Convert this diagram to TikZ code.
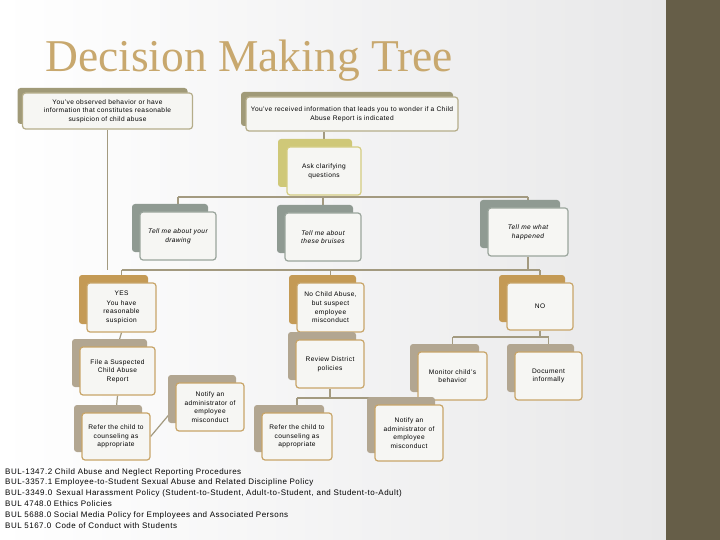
\documentclass[tikz,border=0pt]{standalone}
\usepackage{fontspec}
\setmainfont[LetterSpace=6]{Liberation Sans}
\newfontfamily\titlefont{Liberation Serif}
\usetikzlibrary{shadows}
\hyphenpenalty=10000 \exhyphenpenalty=10000
\definecolor{strip}{HTML}{665E48}
\definecolor{ttl}{HTML}{C8A86E}
\definecolor{ln}{HTML}{A39A80}
\definecolor{fgfill}{HTML}{F6F6F3}
\definecolor{topd}{HTML}{B5AD8A}
\definecolor{tops}{HTML}{A09A78}
\definecolor{askd}{HTML}{D4CC80}
\definecolor{asks}{HTML}{CFC878}
\definecolor{telld}{HTML}{9AA59C}
\definecolor{tells}{HTML}{8F9A92}
\definecolor{goldd}{HTML}{C8A569}
\definecolor{golds}{HTML}{C49A55}
\definecolor{tans}{HTML}{B2A691}
\definecolor{bgr}{HTML}{E8E8E9}
\pgfdeclarelayer{bg}\pgfdeclarelayer{lines}\pgfsetlayers{bg,lines,main}
\tikzset{
 bx/.style={line width=1.2pt, rounded corners=3pt, fill=fgfill, align=center,
   font=\fontsize{6.6}{8.6}\selectfont, inner sep=2pt},
 topb/.style={bx, draw=topd,
   copy shadow={shadow xshift=-5pt, shadow yshift=5pt, fill=tops, draw=none}},
 askb/.style={bx, draw=askd,
   copy shadow={shadow xshift=-9pt, shadow yshift=8pt, fill=asks, draw=none}},
 tellb/.style={bx, draw=telld, font=\fontsize{6.6}{8.6}\selectfont\itshape,
   copy shadow={shadow xshift=-8pt, shadow yshift=8pt, fill=tells, draw=none}},
 goldb/.style={bx, draw=goldd,
   copy shadow={shadow xshift=-8pt, shadow yshift=8pt, fill=golds, draw=none}},
 tanb/.style={bx, draw=goldd,
   copy shadow={shadow xshift=-8pt, shadow yshift=8pt, fill=tans, draw=none}},
 conn/.style={draw=ln, line width=1.2pt},
}
\begin{document}
\begin{tikzpicture}[x=1pt,y=-1pt]
\begin{pgfonlayer}{bg}
\shade[left color=white, right color=bgr] (0,0) rectangle (666,540);
\fill[strip] (666,0) rectangle (720,540);
\end{pgfonlayer}
\useasboundingbox (0,0) rectangle (720,540);
\node[anchor=base west, font=\titlefont\fontsize{45.5}{46}\selectfont, text=ttl, inner sep=0] (title) at (45,72) {Decision Making Tree};

\node[topb, minimum width=170pt, minimum height=36pt, text width=166pt] (tl) at (107.5,111) {You've observed behavior or have\\ information that constitutes reasonable\\ suspicion of child abuse};
\node[topb, minimum width=212pt, minimum height=34pt, text width=208pt] (tr) at (352,114) {You've received information that leads you to wonder if a Child\\ Abuse Report is indicated};
\node[askb, minimum width=74pt, minimum height=48pt, text width=70pt] (ask) at (324,171) {Ask clarifying\\ questions};
\node[tellb, minimum width=76pt, minimum height=48pt, text width=72pt] (td) at (178,236) {Tell me about your\\ drawing};
\node[tellb, minimum width=76pt, minimum height=48pt, text width=72pt] (tb) at (323,237) {Tell me about\\ these bruises};
\node[tellb, minimum width=80pt, minimum height=48pt, text width=76pt] (th) at (528,232) {Tell me what\\ happened};

\node[goldb, minimum width=69pt, minimum height=49pt, text width=65pt] (yes) at (121.5,307.5) {YES\\[1pt] You have\\ reasonable\\ suspicion};
\node[goldb, minimum width=67pt, minimum height=49pt, text width=63pt] (nc) at (330.5,307.5) {No Child Abuse,\\ but suspect\\ employee\\ misconduct};
\node[goldb, minimum width=66pt, minimum height=47pt, text width=62pt] (no) at (540,306.5) {NO};

\node[tanb, minimum width=75pt, minimum height=48pt, text width=71pt] (file) at (117.5,371) {File a Suspected\\ Child Abuse\\ Report};
\node[tanb, minimum width=68pt, minimum height=48pt, text width=64pt] (rev) at (330,364) {Review District\\ policies};
\node[tanb, minimum width=69pt, minimum height=48pt, text width=65pt] (mon) at (452.5,376) {Monitor child's\\ behavior};
\node[tanb, minimum width=67pt, minimum height=48pt, text width=63pt] (doc) at (548.5,376) {Document\\ informally};
\node[tanb, minimum width=66pt, minimum height=47pt, text width=64pt] (ref1) at (116,436.5) {Refer the child to\\ counseling as\\ appropriate};
\node[tanb, minimum width=68pt, minimum height=48pt, text width=64pt] (not1) at (210,407) {Notify an\\ administrator of\\ employee\\ misconduct};
\node[tanb, minimum width=68pt, minimum height=47pt, text width=66pt] (ref2) at (297,436.5) {Refer the child to\\ counseling as\\ appropriate};
\node[tanb, minimum width=68pt, minimum height=56pt, text width=64pt] (not2) at (409,433) {Notify an\\ administrator of\\ employee\\ misconduct};

\node[anchor=north west, align=left, inner sep=0, font=\fontsize{8}{10.8}\selectfont] (refs) at (5,468) {BUL-1347.2 Child Abuse and Neglect Reporting Procedures\\
BUL-3357.1 Employee-to-Student Sexual Abuse and Related Discipline Policy\\
BUL-3349.0\enspace Sexual Harassment Policy (Student-to-Student, Adult-to-Student, and Student-to-Adult)\\
BUL 4748.0 Ethics Policies\\
BUL 5688.0 Social Media Policy for Employees and Associated Persons\\
BUL 5167.0\enspace Code of Conduct with Students};

\coordinate (h1) at (0,197);
\coordinate (h2) at (0,270);
\coordinate (h3) at (0,337);
\coordinate (h4) at (0,398);
\begin{pgfonlayer}{lines}
\draw[conn] (tl.south) -- (tl.south |- h2);
\draw[conn] (ask.north |- tr.south) -- (ask.north);
\draw[conn] (ask.south) -- (ask.south |- h1);
\draw[conn] (td.north |- h1) -- (th.north |- h1);
\draw[conn] (td.north |- h1) -- (td.north);
\draw[conn] (tb.north |- h1) -- (tb.north);
\draw[conn] (th.north |- h1) -- (th.north);
\draw[conn] (th.south) -- (th.south |- h2);
\draw[conn] (yes.north |- h2) -- (no.north |- h2);
\draw[conn] (yes.north |- h2) -- (yes.north);
\draw[conn] (nc.north |- h2) -- (nc.north);
\draw[conn] (no.north |- h2) -- (no.north);
\draw[conn] (no.south) -- (no.south |- h3);
\draw[conn] (mon.north |- h3) -- (doc.north |- h3);
\draw[conn] (mon.north |- h3) -- (mon.north);
\draw[conn] (doc.north |- h3) -- (doc.north);
\draw[conn] (nc.south) -- (rev.north);
\draw[conn] (rev.south) -- (rev.south |- h4);
\draw[conn] (ref2.north |- h4) -- (not2.north |- h4);
\draw[conn] (ref2.north |- h4) -- (ref2.north);
\draw[conn] (not2.north |- h4) -- (not2.north);
\draw[conn] (yes.south) -- (file.north);
\draw[conn] (file.south) -- (ref1.north);
\draw[conn] (ref1.east) -- (not1.west);
\end{pgfonlayer}
\end{tikzpicture}
\end{document}
